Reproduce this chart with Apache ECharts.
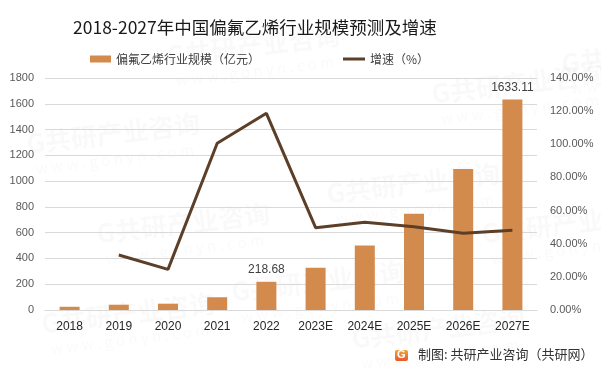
<!DOCTYPE html>
<html>
<head>
<meta charset="utf-8">
<script src="https://cdn.jsdelivr.net/npm/echarts@6/dist/echarts.min.js"></script>
<style>
html,body{margin:0;padding:0;background:#fff;}
#chart{width:601px;height:374px;}
</style>
</head>
<body>
<div id="chart"></div>
<script>
var categories = ['2018','2019','2020','2021','2022','2023E','2024E','2025E','2026E','2027E'];
var scaleValues = [25, 41, 49, 99, 218.68, 327, 500, 746, 1094, 1633.11];
var growthValues = [null, 33.2, 24.5, 100.6, 118.7, 49.7, 52.9, 50.3, 46.3, 48.1];
var labeledIdx = [4, 9];
var leftTicks = {min: 0, max: 1800, interval: 200};
var rightTicks = {min: 0, max: 140, interval: 20};
var barName = '偏氟乙烯行业规模（亿元）';
var lineName = '增速（%）';
var titleText = '2018-2027年中国偏氟乙烯行业规模预测及增速';
var sourceText = '制图: 共研产业咨询（共研网）';

var FONT = '"Noto Sans CJK SC", "Noto Sans", sans-serif';
var chart = echarts.init(document.getElementById('chart'), null, {renderer: 'canvas'});

var barData = scaleValues.map(function (v, i) {
  if (labeledIdx.indexOf(i) >= 0) {
    return {value: v, label: {show: true, position: 'top', distance: 6, color: '#404040', fontSize: 12, fontFamily: 'Liberation Sans, sans-serif', formatter: function (p) { return p.value.toFixed(2); }}};
  }
  return v;
});

var wm = [];
var wmPos = [[165,22],[325,160],[95,200],[230,258],[350,305],[560,30],[430,60],[25,110],[480,200],[40,290]];
wmPos.forEach(function (p) {
  wm.push({type: 'text', left: p[0], top: p[1], rotation: 0.12, z: -10, silent: true,
    style: {text: 'G共研产业咨询', fill: 'rgba(0,0,0,0.022)', font: 'bold 26px ' + FONT}});
  wm.push({type: 'text', left: p[0] + 10, top: p[1] + 32, rotation: 0.12, z: -10, silent: true,
    style: {text: 'w w w . g o n y n . c o m', fill: 'rgba(0,0,0,0.022)', font: '15px ' + FONT}});
});

var option = {
  animation: false,
  backgroundColor: '#ffffff',
  title: {
    text: titleText,
    left: 68, top: 14,
    textStyle: {fontFamily: FONT, fontSize: 17.5, fontWeight: 'normal', color: '#1a1a1a'}
  },
  legend: [{
    data: [{name: barName, icon: 'rect'}],
    left: 85, top: 48,
    itemWidth: 21, itemHeight: 7, itemGap: 4,
    textStyle: {fontFamily: FONT, fontSize: 12, color: '#404040'}
  }, {
    data: [{name: lineName, icon: 'rect'}],
    left: 338, top: 48,
    itemWidth: 22, itemHeight: 3, itemGap: 4,
    textStyle: {fontFamily: FONT, fontSize: 12, color: '#404040'}
  }],
  grid: {left: 45, right: 64, top: 78, bottom: 64},
  xAxis: {
    type: 'category',
    data: categories,
    axisLine: {lineStyle: {color: '#d9d9d9', width: 1}},
    axisTick: {show: false},
    axisLabel: {color: '#262626', fontSize: 12, margin: 11, fontFamily: 'Liberation Sans, sans-serif'}
  },
  yAxis: [{
    type: 'value',
    min: leftTicks.min, max: leftTicks.max, interval: leftTicks.interval,
    axisLine: {show: false}, axisTick: {show: false},
    splitLine: {lineStyle: {color: '#d9d9d9', width: 1}},
    axisLabel: {color: '#595959', fontSize: 11, margin: 11, fontFamily: 'Liberation Sans, sans-serif',
      formatter: function (v) { return String(v); }}
  }, {
    type: 'value',
    min: rightTicks.min, max: rightTicks.max, interval: rightTicks.interval,
    axisLine: {show: false}, axisTick: {show: false},
    splitLine: {show: false},
    axisLabel: {color: '#595959', fontSize: 11, margin: 13, fontFamily: 'Liberation Sans, sans-serif',
      formatter: function (v) { return v.toFixed(2) + '%'; }}
  }],
  series: [{
    name: barName,
    type: 'bar',
    data: barData,
    barWidth: 20,
    itemStyle: {color: '#d38b4d'},
    yAxisIndex: 0
  }, {
    name: lineName,
    type: 'line',
    data: growthValues,
    yAxisIndex: 1,
    symbol: 'none',
    lineStyle: {color: '#5c3f28', width: 3},
    itemStyle: {color: '#5c3f28'},
    z: 5
  }],
  graphic: wm.concat([
    {type: 'rect', left: 395, top: 350, z: 10, shape: {width: 13, height: 11, r: 2},
      style: {fill: new echarts.graphic.LinearGradient(0, 0, 0, 1, [{offset: 0, color: '#f2a23a'}, {offset: 1, color: '#e8572a'}])}},
    {type: 'text', left: 397, top: 349, z: 11, style: {text: 'G', fill: '#ffffff', font: 'bold 11px Liberation Sans, sans-serif'}},
    {type: 'text', left: 418, top: 348, z: 11, style: {text: sourceText, fill: '#333333', font: '13px ' + FONT}}
  ])
};
chart.setOption(option);
</script>
</body>
</html>
